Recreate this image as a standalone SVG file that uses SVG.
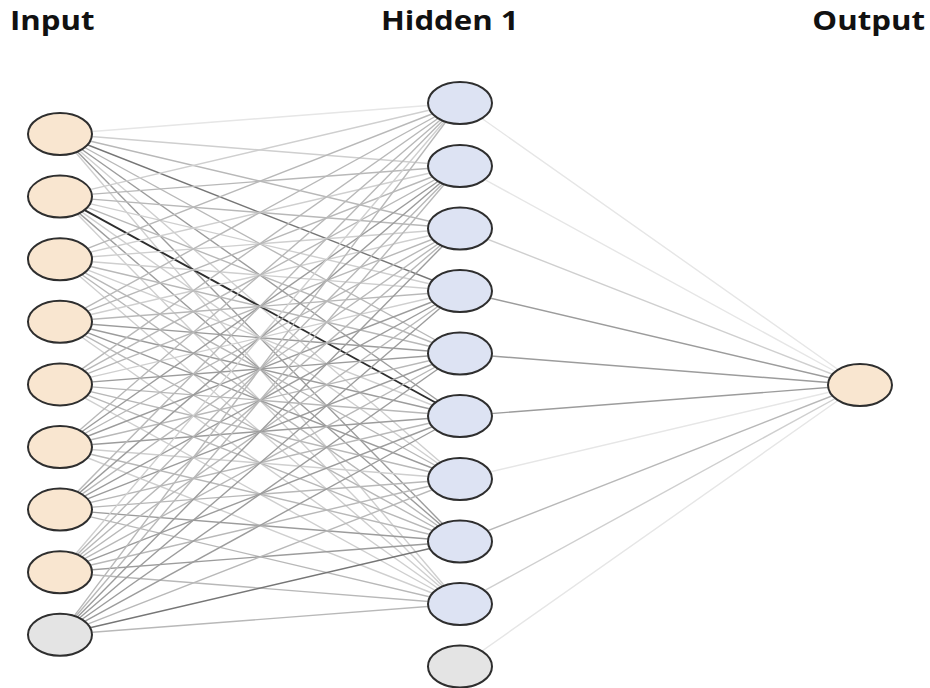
<svg xmlns="http://www.w3.org/2000/svg" width="930" height="688" viewBox="0 0 930 688">
<style>
.lbl{font-family:"Open Sans","Noto Sans","Liberation Sans",sans-serif;font-weight:bold;font-size:26px;fill:#111}
.n{stroke:#2e2e2e;stroke-width:2}
.in{fill:#f9e6d0}
.hid{fill:#dde3f3}
.bias{fill:#e4e4e4}
.out{fill:#f9e6d0}
line{stroke-width:1.4;fill:none}
.w1{stroke:#e6e6e6}.w2{stroke:#cfcfcf}.w3{stroke:#b8b8b8}.w4{stroke:#9c9c9c}.w5{stroke:#767676}.w6{stroke:#2e2e2e;stroke-width:1.9}
</style>
<rect width="930" height="688" fill="#fff"/>
<g id="labels">
<text class="lbl" transform="translate(10,30) scale(1.2,1)">Input</text>
<text class="lbl" transform="translate(381,30) scale(1.2,1)">Hidden 1</text>
<text class="lbl" text-anchor="end" transform="translate(925,30) scale(1.2,1)">Output</text>
</g>
<g id="connectors">
<!-- I1 y=134 -->
<line class="w1" x1="60" y1="134" x2="460" y2="103"/>
<line class="w2" x1="60" y1="134" x2="460" y2="166"/>
<line class="w3" x1="60" y1="134" x2="460" y2="228.5"/>
<line class="w5" x1="60" y1="134" x2="460" y2="291"/>
<line class="w3" x1="60" y1="134" x2="460" y2="353.5"/>
<line class="w4" x1="60" y1="134" x2="460" y2="416"/>
<line class="w2" x1="60" y1="134" x2="460" y2="479"/>
<line class="w4" x1="60" y1="134" x2="460" y2="541.5"/>
<line class="w2" x1="60" y1="134" x2="460" y2="604"/>
<!-- I2 y=196.6 -->
<line class="w2" x1="60" y1="196.6" x2="460" y2="103"/>
<line class="w3" x1="60" y1="196.6" x2="460" y2="166"/>
<line class="w3" x1="60" y1="196.6" x2="460" y2="228.5"/>
<line class="w2" x1="60" y1="196.6" x2="460" y2="291"/>
<line class="w3" x1="60" y1="196.6" x2="460" y2="353.5"/>
<line class="w6" x1="60" y1="196.6" x2="460" y2="416"/>
<line class="w2" x1="60" y1="196.6" x2="460" y2="479"/>
<line class="w4" x1="60" y1="196.6" x2="460" y2="541.5"/>
<line class="w2" x1="60" y1="196.6" x2="460" y2="604"/>
<!-- I3 y=259.2 -->
<line class="w3" x1="60" y1="259.2" x2="460" y2="103"/>
<line class="w2" x1="60" y1="259.2" x2="460" y2="166"/>
<line class="w2" x1="60" y1="259.2" x2="460" y2="228.5"/>
<line class="w2" x1="60" y1="259.2" x2="460" y2="291"/>
<line class="w3" x1="60" y1="259.2" x2="460" y2="353.5"/>
<line class="w2" x1="60" y1="259.2" x2="460" y2="416"/>
<line class="w3" x1="60" y1="259.2" x2="460" y2="479"/>
<line class="w3" x1="60" y1="259.2" x2="460" y2="541.5"/>
<line class="w2" x1="60" y1="259.2" x2="460" y2="604"/>
<!-- I4 y=321.8 -->
<line class="w3" x1="60" y1="321.8" x2="460" y2="103"/>
<line class="w3" x1="60" y1="321.8" x2="460" y2="166"/>
<line class="w2" x1="60" y1="321.8" x2="460" y2="228.5"/>
<line class="w3" x1="60" y1="321.8" x2="460" y2="291"/>
<line class="w4" x1="60" y1="321.8" x2="460" y2="353.5"/>
<line class="w4" x1="60" y1="321.8" x2="460" y2="416"/>
<line class="w4" x1="60" y1="321.8" x2="460" y2="479"/>
<line class="w3" x1="60" y1="321.8" x2="460" y2="541.5"/>
<line class="w2" x1="60" y1="321.8" x2="460" y2="604"/>
<!-- I5 y=384.4 -->
<line class="w3" x1="60" y1="384.4" x2="460" y2="103"/>
<line class="w3" x1="60" y1="384.4" x2="460" y2="166"/>
<line class="w3" x1="60" y1="384.4" x2="460" y2="228.5"/>
<line class="w2" x1="60" y1="384.4" x2="460" y2="291"/>
<line class="w4" x1="60" y1="384.4" x2="460" y2="353.5"/>
<line class="w3" x1="60" y1="384.4" x2="460" y2="416"/>
<line class="w3" x1="60" y1="384.4" x2="460" y2="479"/>
<line class="w3" x1="60" y1="384.4" x2="460" y2="541.5"/>
<line class="w2" x1="60" y1="384.4" x2="460" y2="604"/>
<!-- I6 y=447 -->
<line class="w3" x1="60" y1="447" x2="460" y2="103"/>
<line class="w4" x1="60" y1="447" x2="460" y2="166"/>
<line class="w3" x1="60" y1="447" x2="460" y2="228.5"/>
<line class="w4" x1="60" y1="447" x2="460" y2="291"/>
<line class="w3" x1="60" y1="447" x2="460" y2="353.5"/>
<line class="w4" x1="60" y1="447" x2="460" y2="416"/>
<line class="w2" x1="60" y1="447" x2="460" y2="479"/>
<line class="w3" x1="60" y1="447" x2="460" y2="541.5"/>
<line class="w2" x1="60" y1="447" x2="460" y2="604"/>
<!-- I7 y=509.6 -->
<line class="w3" x1="60" y1="509.6" x2="460" y2="103"/>
<line class="w4" x1="60" y1="509.6" x2="460" y2="166"/>
<line class="w3" x1="60" y1="509.6" x2="460" y2="228.5"/>
<line class="w4" x1="60" y1="509.6" x2="460" y2="291"/>
<line class="w4" x1="60" y1="509.6" x2="460" y2="353.5"/>
<line class="w3" x1="60" y1="509.6" x2="460" y2="416"/>
<line class="w3" x1="60" y1="509.6" x2="460" y2="479"/>
<line class="w4" x1="60" y1="509.6" x2="460" y2="541.5"/>
<line class="w3" x1="60" y1="509.6" x2="460" y2="604"/>
<!-- I8 y=572.2 -->
<line class="w2" x1="60" y1="572.2" x2="460" y2="103"/>
<line class="w3" x1="60" y1="572.2" x2="460" y2="166"/>
<line class="w3" x1="60" y1="572.2" x2="460" y2="228.5"/>
<line class="w3" x1="60" y1="572.2" x2="460" y2="291"/>
<line class="w3" x1="60" y1="572.2" x2="460" y2="353.5"/>
<line class="w4" x1="60" y1="572.2" x2="460" y2="416"/>
<line class="w3" x1="60" y1="572.2" x2="460" y2="479"/>
<line class="w4" x1="60" y1="572.2" x2="460" y2="541.5"/>
<line class="w3" x1="60" y1="572.2" x2="460" y2="604"/>
<!-- I9 bias y=634.8 -->
<line class="w3" x1="60" y1="634.8" x2="460" y2="103"/>
<line class="w3" x1="60" y1="634.8" x2="460" y2="166"/>
<line class="w4" x1="60" y1="634.8" x2="460" y2="228.5"/>
<line class="w4" x1="60" y1="634.8" x2="460" y2="291"/>
<line class="w4" x1="60" y1="634.8" x2="460" y2="353.5"/>
<line class="w4" x1="60" y1="634.8" x2="460" y2="416"/>
<line class="w3" x1="60" y1="634.8" x2="460" y2="479"/>
<line class="w5" x1="60" y1="634.8" x2="460" y2="541.5"/>
<line class="w3" x1="60" y1="634.8" x2="460" y2="604"/>
<!-- hidden -> output -->
<line class="w1" x1="460" y1="103" x2="860" y2="385"/>
<line class="w1" x1="460" y1="166" x2="860" y2="385"/>
<line class="w2" x1="460" y1="228.5" x2="860" y2="385"/>
<line class="w4" x1="460" y1="291" x2="860" y2="385"/>
<line class="w4" x1="460" y1="353.5" x2="860" y2="385"/>
<line class="w4" x1="460" y1="416" x2="860" y2="385"/>
<line class="w1" x1="460" y1="479" x2="860" y2="385"/>
<line class="w3" x1="460" y1="541.5" x2="860" y2="385"/>
<line class="w2" x1="460" y1="604" x2="860" y2="385"/>
<line class="w1" x1="460" y1="666.5" x2="860" y2="385"/>
</g>
<g id="input-1"><ellipse class="n in" cx="60" cy="134" rx="32" ry="21"/></g>
<g id="input-2"><ellipse class="n in" cx="60" cy="196.6" rx="32" ry="21"/></g>
<g id="input-3"><ellipse class="n in" cx="60" cy="259.2" rx="32" ry="21"/></g>
<g id="input-4"><ellipse class="n in" cx="60" cy="321.8" rx="32" ry="21"/></g>
<g id="input-5"><ellipse class="n in" cx="60" cy="384.4" rx="32" ry="21"/></g>
<g id="input-6"><ellipse class="n in" cx="60" cy="447" rx="32" ry="21"/></g>
<g id="input-7"><ellipse class="n in" cx="60" cy="509.6" rx="32" ry="21"/></g>
<g id="input-8"><ellipse class="n in" cx="60" cy="572.2" rx="32" ry="21"/></g>
<g id="input-bias"><ellipse class="n bias" cx="60" cy="634.8" rx="32" ry="21"/></g>
<g id="hidden-1"><ellipse class="n hid" cx="460" cy="103" rx="32" ry="21"/></g>
<g id="hidden-2"><ellipse class="n hid" cx="460" cy="166" rx="32" ry="21"/></g>
<g id="hidden-3"><ellipse class="n hid" cx="460" cy="228.5" rx="32" ry="21"/></g>
<g id="hidden-4"><ellipse class="n hid" cx="460" cy="291" rx="32" ry="21"/></g>
<g id="hidden-5"><ellipse class="n hid" cx="460" cy="353.5" rx="32" ry="21"/></g>
<g id="hidden-6"><ellipse class="n hid" cx="460" cy="416" rx="32" ry="21"/></g>
<g id="hidden-7"><ellipse class="n hid" cx="460" cy="479" rx="32" ry="21"/></g>
<g id="hidden-8"><ellipse class="n hid" cx="460" cy="541.5" rx="32" ry="21"/></g>
<g id="hidden-9"><ellipse class="n hid" cx="460" cy="604" rx="32" ry="21"/></g>
<g id="hidden-bias"><ellipse class="n bias" cx="460" cy="666.5" rx="32" ry="21"/></g>
<g id="output-1"><ellipse class="n out" cx="860" cy="385" rx="32" ry="21"/></g>
</svg>
